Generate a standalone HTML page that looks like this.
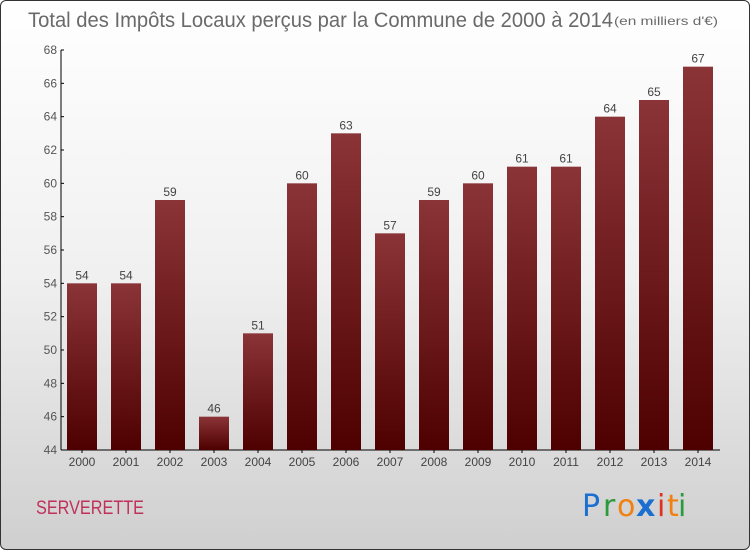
<!DOCTYPE html>
<html><head><meta charset="utf-8"><style>
body{margin:0;width:750px;height:550px;overflow:hidden;font-family:"Liberation Sans",sans-serif}
#wrap{position:absolute;left:0;top:0;width:748px;height:548px;border:1px solid #333;border-radius:6px;background:linear-gradient(#fff 0%,#f0f0f0 50%,#cfcfcf 100%)}
</style></head><body>
<div id="wrap">
<svg id="chart" width="750" height="550" style="position:absolute;left:-1px;top:-1px">
<defs><linearGradient id="bg" x1="0" y1="0" x2="0" y2="1"><stop offset="0" stop-color="#8b3438"/><stop offset="1" stop-color="#4e0000"/></linearGradient></defs>
<text x="28" y="27" font-size="21" fill="#6a6a6a" textLength="585" lengthAdjust="spacingAndGlyphs">Total des Impôts Locaux perçus par la Commune de 2000 à 2014</text>
<text x="614" y="25" font-size="12" fill="#6a6a6a" textLength="104" lengthAdjust="spacingAndGlyphs">(en milliers d'€)</text>
<text x="36" y="514" font-size="19" fill="#c0305a" textLength="108" lengthAdjust="spacingAndGlyphs">SERVERETTE</text>
<g font-size="30" font-family="'DejaVu Sans',sans-serif">
<text x="582" y="516" fill="#1a6fd0">P</text><text x="603" y="516" fill="#2a9a3a">r</text><text x="617" y="516" fill="#f08010">o</text><text x="636" y="516" fill="#1a6fd0" font-weight="bold">x</text><text x="657" y="516" fill="#e03020">i</text><text x="667" y="516" fill="#f08010">t</text><text x="678" y="516" fill="#2a9a3a">i</text>
</g>
<g id="plot"></g>
</svg></div>
<script>
const categories=["2000","2001","2002","2003","2004","2005","2006","2007","2008","2009","2010","2011","2012","2013","2014"];
const values=[54,54,59,46,51,60,63,57,59,60,61,61,64,65,67];
const yTicks=[44,46,48,50,52,54,56,58,60,62,64,66,68];
const ns="http://www.w3.org/2000/svg";
const g=document.getElementById('plot');
const y=v=>450-(v-44)*(400/24);
const x=i=>82+i*44;
function mk(t,a){const e=document.createElementNS(ns,t);for(const k in a)e.setAttribute(k,a[k]);g.appendChild(e);return e;}
let ax=mk('line',{x1:61,y1:50,x2:61,y2:450,stroke:'#000'});


let bx=mk('line',{x1:61,y1:450,x2:720,y2:450,stroke:'#000'});


yTicks.forEach(v=>{
 let t=mk('line',{x1:61,y1:y(v),x2:64,y2:y(v),stroke:'#000'});
 
 
 let l=mk('text',{x:57,y:y(v)+4,'text-anchor':'end','font-size':12,fill:'#555'});
 l.textContent=v;
 
 
});
categories.forEach((c,i)=>{
 let r=mk('rect',{x:x(i)-15,y:y(values[i]),width:30,height:450-y(values[i]),fill:'url(#bg)'});
 
 
 let vl=mk('text',{x:x(i),y:y(values[i])-4,'text-anchor':'middle','font-size':12,fill:'#444'});
 vl.textContent=values[i];
 
 
 let tk=mk('line',{x1:x(i),y1:450,x2:x(i),y2:453,stroke:'#000'});
 
 
 let xl=mk('text',{x:x(i),y:466,'text-anchor':'middle','font-size':12,fill:'#444'});
 xl.textContent=c;
 
 
});
</script>
</body></html>
